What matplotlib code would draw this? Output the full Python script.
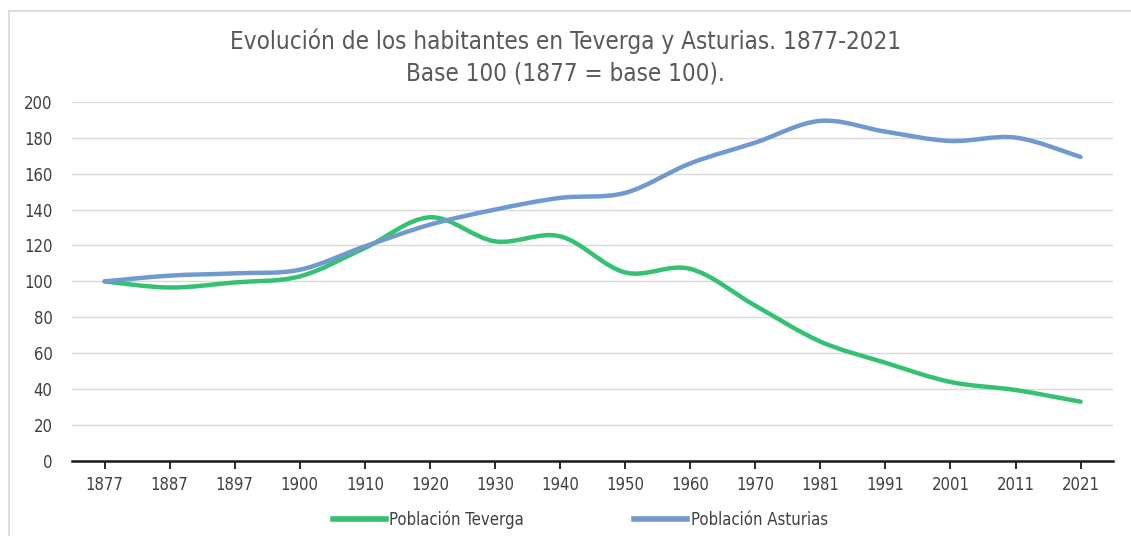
import matplotlib.pyplot as plt
from matplotlib.path import Path
from matplotlib.patches import PathPatch, Rectangle
from matplotlib.lines import Line2D
import numpy as np

plt.rcParams['font.family'] = ['DejaVu Sans']
plt.rcParams['font.stretch'] = 'condensed'

years = ['1877', '1887', '1897', '1900', '1910', '1920', '1930', '1940',
         '1950', '1960', '1970', '1981', '1991', '2001', '2011', '2021']
teverga = [100, 96.6, 99.4, 102.8, 118.6, 135.7, 122.3, 125.1,
           105, 107, 86.5, 66.5, 54.7, 44, 39.5, 33]
asturias = [100, 103.2, 104.5, 106.5, 119.5, 131.6, 140, 146.5,
            149.3, 165.7, 177.3, 189.4, 183.4, 178.2, 180.1, 169.3]

green = '#35c172'
blue = '#7099cf'


def smooth_path(xs, ys):
    # Catmull-Rom style bezier, like Excel's smoothed line
    pts = np.column_stack([xs, ys]).astype(float)
    verts = [pts[0]]
    codes = [Path.MOVETO]
    n = len(pts)
    for i in range(n - 1):
        p0 = pts[i - 1] if i > 0 else pts[i]
        p1 = pts[i]
        p2 = pts[i + 1]
        p3 = pts[i + 2] if i + 2 < n else pts[i + 1]
        c1 = p1 + (p2 - p0) / 6
        c2 = p2 - (p3 - p1) / 6
        verts += [c1, c2, p2]
        codes += [Path.CURVE4] * 3
    return Path(verts, codes)


fig = plt.figure(figsize=(11.31, 5.36), dpi=100)
fig.patches.append(Rectangle((0.008, -0.02), 1.2, 1.0, transform=fig.transFigure,
                             fill=False, edgecolor='#d9d9d9', linewidth=1.2))
ax = fig.add_axes([0.0637, 0.140, 0.9205, 0.670])

x = np.arange(len(years))
for vals, col in [(teverga, green), (asturias, blue)]:
    ax.add_patch(PathPatch(smooth_path(x, vals), fill=False, edgecolor=col,
                           linewidth=3.2, capstyle='round', joinstyle='round', zorder=3))

ax.set_xlim(-0.5, len(years) - 0.5)
ax.set_ylim(0, 200)
ax.set_yticks(range(0, 201, 20))
ax.set_xticks(x)
ax.set_xticklabels(years)
ax.grid(axis='y', color='#d9d9d9', linewidth=1)
ax.set_axisbelow(True)
for s in ['top', 'right', 'left']:
    ax.spines[s].set_visible(False)
ax.spines['bottom'].set_color('#1a1a1a')
ax.spines['bottom'].set_linewidth(1.8)
ax.tick_params(axis='y', length=0, pad=14, labelsize=12, labelcolor='#404040')
ax.tick_params(axis='x', length=6, width=1.3, color='#1a1a1a', pad=5,
               labelsize=12, labelcolor='#404040')

fig.text(0.5, 0.893, 'Evolución de los habitantes en Teverga y Asturias. 1877-2021\nBase 100 (1877 = base 100).',
         ha='center', va='center', fontsize=17.4, color='#595959', linespacing=1.38)

handles = [Line2D([], [], color=green, linewidth=4),
           Line2D([], [], color=blue, linewidth=4)]
fig.legend(handles, ['Población Teverga', 'Población Asturias'], loc='center',
           bbox_to_anchor=(0.513, 0.03), ncol=2, frameon=False, fontsize=12,
           handlelength=3.2, handletextpad=0.2, columnspacing=6.6,
           labelcolor='#404040')

fig.savefig('out.png', dpi=100)
